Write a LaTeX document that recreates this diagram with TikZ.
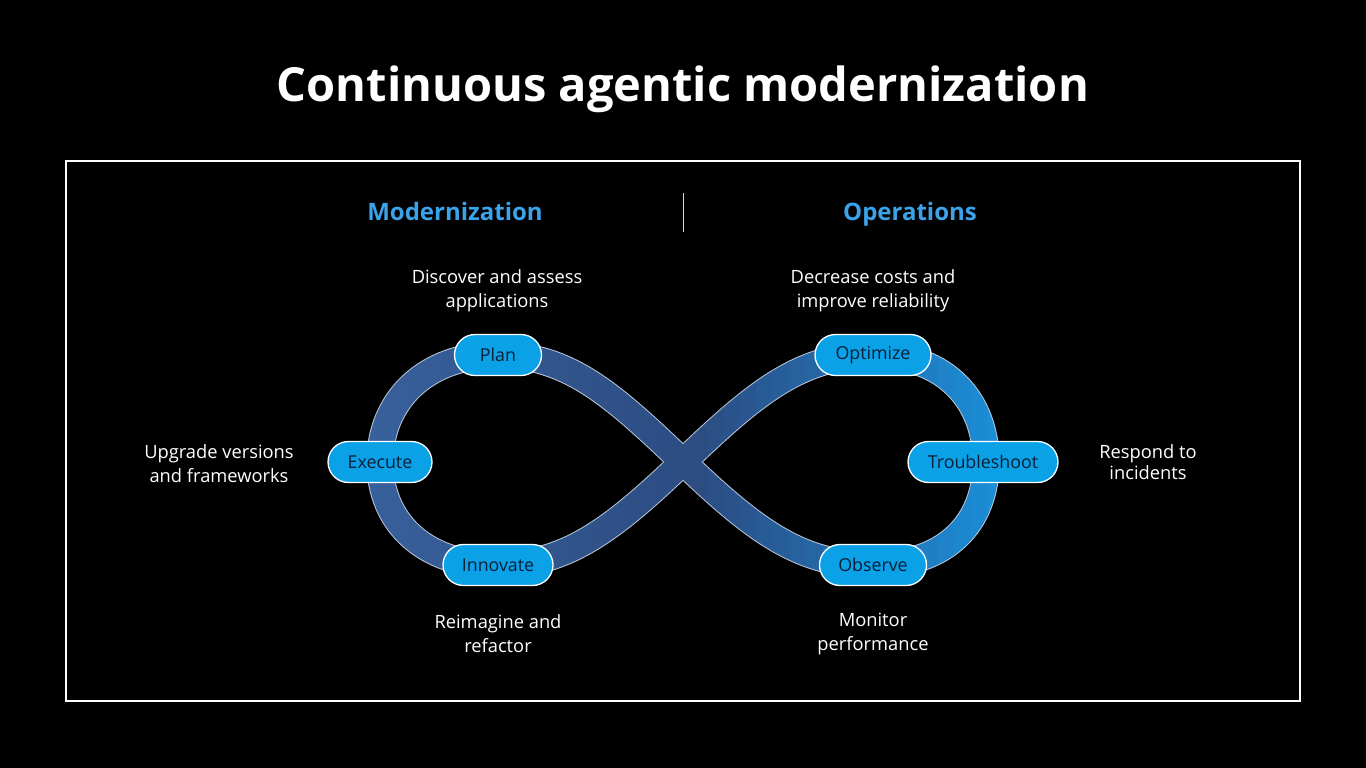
\documentclass[tikz,border=0pt]{standalone}
\usepackage{fontspec}
\setmainfont{Open Sans}
\usetikzlibrary{shapes.misc}
\definecolor{nodefill}{HTML}{0BA1E6}
\definecolor{nodetext}{HTML}{0A1E38}
\definecolor{headblue}{HTML}{3AA3EA}
\definecolor{tubeL}{HTML}{38609A}
\definecolor{tubeM}{HTML}{2C4C82}
\definecolor{tubeR}{HTML}{1A92DC}
\definecolor{tubeedge}{HTML}{B8C6DA}
\newcommand\tubepath{(683,462) .. controls (612,394) and (568,355) .. (498,355) .. controls (424,355) and (380,402) .. (380,462) .. controls (380,522) and (424,565) .. (497,565) .. controls (566,565) and (612,530) .. (683,462) .. controls (754,394) and (800,355) .. (873,355) .. controls (947,355) and (986,402) .. (986,462) .. controls (986,522) and (947,565) .. (873,565) .. controls (800,565) and (754,530) .. (683,462) -- cycle}
\tikzset{
  stage/.style={rounded rectangle, draw=white, line width=1.3pt, fill=nodefill,
    text=nodetext, font=\fontsize{17.8}{20}\selectfont, minimum height=41pt, inner xsep=0pt},
  note/.style={text=white, align=center, font=\fontsize{18.3}{24}\selectfont},
  head/.style={text=headblue, font=\fontsize{24}{27}\selectfont\bfseries, anchor=base}
}
\begin{document}
\begin{tikzpicture}[x=1pt,y=-1pt]
  \fill[black] (0,0) rectangle (1366,768);
  \useasboundingbox (0,0) rectangle (1366,768);
  \node[text=white, font=\fontsize{47}{54}\selectfont\bfseries, anchor=base] (title) at (683,101) {Continuous agentic modernization};
  \node[draw=white, line width=1.5pt, minimum width=1234pt, minimum height=540pt, inner sep=0pt] (frame) at (683,431) {};
  \node[head] (hmod) at (455,220) {Modernization};
  \node[head] (hops) at (910,220) {Operations};
  \coordinate (divtop) at (683,193);
  \coordinate (divbot) at (683,232);
  \draw[white!85!black, line width=0.8pt] (divtop) -- (divbot);
  % tube: light rim, then colour graded body in vertical strips
  \draw[tubeedge, line width=27.5pt, line join=round] \tubepath;
  \foreach \i in {0,...,39} {
    \pgfmathsetmacro\xa{360+\i*16.5}
    \pgfmathsetmacro\xb{\xa+17}
    \pgfmathtruncatemacro\pa{\i<20 ? 100-\i*5 : 0}
    \pgfmathtruncatemacro\pb{\i<20 ? 0 : (\i-20)*100/19}
    \ifnum\i<20
      \colorlet{segc}{tubeL!\pa!tubeM}
    \else
      \colorlet{segc}{tubeR!\pb!tubeM}
    \fi
    \begin{scope}
      \clip (\xa,300) rectangle (\xb,620);
      \draw[segc, line width=25.5pt, line join=round] \tubepath;
    \end{scope}
  }
  % nodes
  \node[stage, minimum width=87pt] (plan) at (498,355) {Plan};
  \node[stage, minimum width=104pt] (exec) at (380,462) {Execute};
  \node[stage, minimum width=110pt] (innov) at (498,565) {Innovate};
  \node[stage, minimum width=116pt] (opt) at (873,355) {Optimize};
  \node[stage, minimum width=150pt] (trouble) at (983,462) {Troubleshoot};
  \node[stage, minimum width=107pt] (obs) at (873,565) {Observe};
  % notes
  \node[note] (nplan) at (497,291) {Discover and assess\\applications};
  \node[note] (nopt) at (873,291) {Decrease costs and\\improve reliability};
  \node[note] (nexec) at (219,464) {Upgrade versions\\and frameworks};
  \node[note, font=\fontsize{18.3}{21.5}\selectfont] (ntr) at (1148,462) {Respond to\\incidents};
  \node[note] (ninn) at (498,634) {Reimagine and\\refactor};
  \node[note] (nobs) at (873,634) {Monitor\\performance};
\end{tikzpicture}
\end{document}
